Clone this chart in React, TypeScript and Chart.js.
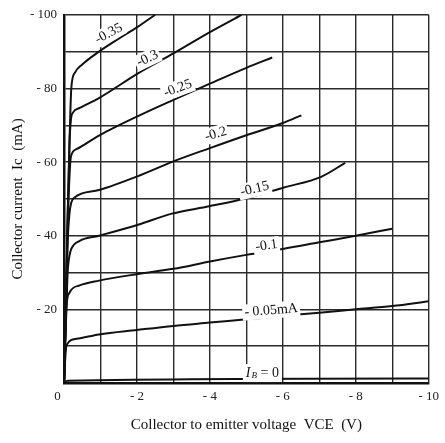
import React, { useEffect, useRef } from 'react';
import { Chart, registerables } from 'chart.js';

Chart.register(...registerables);

// Base current of each curve (label text)
const curveLabels = ['-0.35', '-0.3', '-0.25', '-0.2', '-0.15', '-0.1', '- 0.05mA', 'IB = 0'];

// Collector-emitter voltage (V) for each curve
const vce035 = [0, -0.05, -0.1, -0.15, -0.2, -0.3, -0.5, -0.96, -1.5, -2.03, -2.5];
const vce030 = [0, -0.05, -0.1, -0.15, -0.19, -0.25, -0.43, -0.96, -2.03, -3, -4, -4.87];
const vce025 = [0, -0.05, -0.1, -0.15, -0.19, -0.34, -0.96, -2.03, -3, -4, -5, -5.71];
const vce020 = [0, -0.05, -0.1, -0.15, -0.2, -0.29, -0.96, -2.03, -3, -4, -5, -6, -6.51];
const vce015 = [0, -0.05, -0.1, -0.15, -0.2, -0.43, -0.96, -2.03, -2.96, -3.98, -5, -6.03, -7.05, -7.71];
const vce010 = [0, -0.03, -0.07, -0.15, -0.43, -0.96, -2.03, -3, -4, -5, -6, -7, -8, -9];
const vce005 = [0, -0.03, -0.07, -0.34, -0.96, -2, -3, -4, -5, -6, -7, -8, -9, -10];
const vce000 = [0, -0.1, -10];

// Collector current (mA) for each curve
const ic035 = [0, -20, -45, -65, -80, -84.3, -86.5, -90, -93.5, -96.8, -100];
const ic030 = [0, -20, -45, -65, -71.5, -73.5, -74.7, -77.4, -84.1, -89.5, -95.3, -100];
const ic025 = [0, -20, -42, -56, -61.5, -63.5, -67.2, -72.5, -76.9, -81.3, -85.6, -88.4];
const ic020 = [0, -18, -38, -46, -49, -50.4, -52.4, -56.2, -60.2, -63.8, -67.3, -70.6, -72.7];
const ic015 = [0, -15, -30, -34.5, -36.4, -38.6, -40, -43, -46, -48, -50.2, -53.1, -56, -59.8];
const ic010 = [0, -12, -21, -24.5, -26.5, -27.8, -29.6, -31, -33, -34.8, -36.4, -38.2, -40, -41.9];
const ic005 = [0, -6, -10.3, -12, -13.2, -14.4, -15.5, -16.4, -17.3, -18.2, -19.1, -20, -20.9, -22.2];
const ic000 = [0, -0.6, -1.2];

const curveV = [vce035, vce030, vce025, vce020, vce015, vce010, vce005, vce000];
const curveI = [ic035, ic030, ic025, ic020, ic015, ic010, ic005, ic000];

// Where each curve label sits (data units)
const labelV = [-1.23, -2.29, -3.12, -4.16, -5.23, -5.55, -5.68, -5.44];
const labelI = [-94.9, -88.1, -80, -67.6, -52.7, -37.3, -19.7, -2.7];

// Axis tick labels
const xTickLabels: Record<number, string> = { 0: '0    ', [-2]: '- 2', [-4]: '- 4', [-6]: '- 6', [-8]: '- 8', [-10]: '- 10' };
const yTickLabels: Record<number, string> = { [-20]: '- 20', [-40]: '- 40', [-60]: '- 60', [-80]: '- 80', [-100]: '- 100' };

const SERIF = '"Liberation Serif", "DejaVu Serif", serif';

const labelPlugin = {
  id: 'curveLabels',
  afterDatasetsDraw(chart: any) {
    const { ctx } = chart;
    const xs = chart.scales.x;
    const ys = chart.scales.y;
    curveLabels.forEach((text, i) => {
      const px = xs.getPixelForValue(labelV[i]);
      const py = ys.getPixelForValue(labelI[i]);
      const vs = curveV[i];
      const is = curveI[i];
      let ang = 0;
      for (let k = 0; k < vs.length - 1; k++) {
        if (vs[k] >= labelV[i] && vs[k + 1] <= labelV[i]) {
          const dx = xs.getPixelForValue(vs[k + 1]) - xs.getPixelForValue(vs[k]);
          const dy = ys.getPixelForValue(is[k + 1]) - ys.getPixelForValue(is[k]);
          ang = Math.atan2(dy, dx) * 0.85;
          break;
        }
      }
      if (i === curveLabels.length - 1) ang = 0;
      ctx.save();
      ctx.translate(px, py);
      ctx.rotate(ang);
      ctx.textBaseline = 'middle';
      if (i === curveLabels.length - 1) {
        // I_B = 0 with subscript
        const fI = 'italic 14px ' + SERIF;
        const fB = 'italic 9px ' + SERIF;
        const fR = '14px ' + SERIF;
        ctx.font = fI; const wI = ctx.measureText('I').width;
        ctx.font = fB; const wB = ctx.measureText('B').width;
        ctx.font = fR; const wR = ctx.measureText(' = 0').width;
        const w = wI + wB + wR + 1;
        ctx.fillStyle = '#fff';
        ctx.fillRect(-w / 2 - 3, -9, w + 6, 18);
        ctx.fillStyle = '#111';
        ctx.textAlign = 'left';
        let cx = -w / 2;
        ctx.font = fI; ctx.fillText('I', cx, 0); cx += wI + 1;
        ctx.font = fB; ctx.fillText('B', cx, 3); cx += wB;
        ctx.font = fR; ctx.fillText(' = 0', cx, 0);
      } else {
        ctx.font = '14px ' + SERIF;
        const w = ctx.measureText(text).width;
        ctx.fillStyle = '#fff';
        ctx.fillRect(-w / 2 - 2, -8, w + 4, 16);
        ctx.fillStyle = '#111';
        ctx.textAlign = 'center';
        ctx.fillText(text, 0, 0);
      }
      ctx.restore();
    });
  },
};

export default function App() {
  const ref = useRef<HTMLCanvasElement | null>(null);

  useEffect(() => {
    if (!ref.current) return;
    const datasets = curveV.map((vs, i) => ({
      label: curveLabels[i],
      data: vs.map((v, k) => ({ x: v, y: curveI[i][k] })),
      showLine: true,
      borderColor: '#111',
      borderWidth: 2,
      pointRadius: 0,
      fill: false,
      cubicInterpolationMode: 'monotone' as const,
    }));
    const chart = new Chart(ref.current, {
      type: 'scatter',
      data: { datasets },
      plugins: [labelPlugin],
      options: {
        animation: false,
        responsive: true,
        maintainAspectRatio: false,
        layout: { padding: { top: 13, right: 6, left: 0, bottom: 0 } },
        plugins: { legend: { display: false }, tooltip: { enabled: false } },
        scales: {
          x: {
            type: 'linear',
            min: -10,
            max: 0,
            reverse: true,
            afterFit: (s: any) => { s.height = 60; },
            ticks: {
              stepSize: 1,
              autoSkip: false,
              maxRotation: 0,
              padding: 6,
              color: '#222',
              font: { family: SERIF, size: 13 },
              callback: (v: any) => xTickLabels[Math.round(Number(v))] ?? '',
            },
            grid: { color: '#2a2a2a', lineWidth: 1.4, drawTicks: false },
            border: { color: '#111', width: 2.5 },
            title: {
              display: true,
              text: 'Collector to emitter voltage  VCE  (V)',
              color: '#111',
              font: { family: SERIF, size: 15 },
              padding: { top: 0, bottom: 9 },
            },
          },
          y: {
            type: 'linear',
            min: -100,
            max: 0,
            reverse: true,
            afterFit: (s: any) => { s.width = 64; },
            ticks: {
              stepSize: 10,
              autoSkip: false,
              padding: 7,
              color: '#222',
              font: { family: SERIF, size: 13 },
              callback: (v: any) => yTickLabels[Math.round(Number(v))] ?? '',
            },
            grid: { color: '#2a2a2a', lineWidth: 1.4, drawTicks: false },
            border: { color: '#111', width: 2.5 },
            title: {
              display: true,
              text: 'Collector current  Ic  (mA)',
              color: '#111',
              font: { family: SERIF, size: 15 },
              padding: { top: 9, bottom: 0 },
            },
          },
        },
      },
    });
    return () => chart.destroy();
  }, []);

  return (
    <div style={{ position: 'fixed', left: 0, top: 0, width: 445, height: 443, background: '#fff' }}>
      <canvas ref={ref} />
    </div>
  );
}
